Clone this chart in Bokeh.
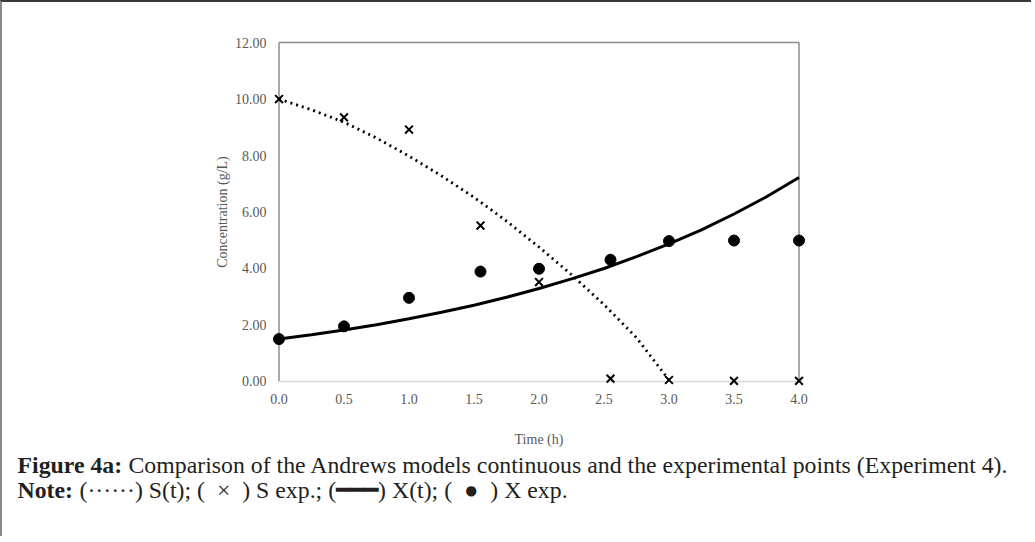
from bokeh.plotting import figure
from bokeh.layouts import column
from bokeh.models import Range1d, FixedTicker, NumeralTickFormatter, Label
from bokeh.embed import file_html
from bokeh.resources import INLINE

# ---------------- data ----------------
time_exp = [0.0, 0.5, 1.0, 1.55, 2.0, 2.55, 3.0, 3.5, 4.0]
s_exp = [10.0, 9.35, 8.92, 5.52, 3.52, 0.10, 0.05, 0.02, 0.02]
x_exp = [1.50, 1.95, 2.96, 3.89, 3.99, 4.31, 4.97, 4.99, 4.99]

time_s_model = [0.0, 0.25, 0.5, 0.75, 1.0, 1.25, 1.5, 1.75, 2.0, 2.25, 2.5, 2.75, 3.0]
s_model = [10.00, 9.62, 9.18, 8.62, 7.98, 7.28, 6.52, 5.68, 4.76, 3.78, 2.72, 1.55, 0.05]

time_x_model = [0.0, 0.25, 0.5, 0.75, 1.0, 1.25, 1.5, 1.75, 2.0, 2.25, 2.5, 2.75,
                3.0, 3.25, 3.5, 3.75, 4.0]
x_model = [1.50, 1.65, 1.82, 2.01, 2.22, 2.45, 2.70, 2.98, 3.29, 3.63, 4.00, 4.42,
           4.87, 5.37, 5.93, 6.54, 7.22]

x_ticks = [0.0, 0.5, 1.0, 1.5, 2.0, 2.5, 3.0, 3.5, 4.0]
y_ticks = [0, 2, 4, 6, 8, 10, 12]

x_label = "Time (h)"
y_label = "Concentration (g/L)"
caption_bold_1 = "Figure 4a:"
caption_text_1 = "Comparison of the Andrews models continuous and the experimental points (Experiment 4)."
caption_bold_2 = "Note:"
nb = "\u00a0"
caption_text_2 = ("(\u00b7\u00b7\u00b7\u00b7\u00b7\u00b7) S(t); (" + nb * 2 + "\u00d7" + nb * 2 +
                  ") S exp.; (\u2501\u2501\u2501) X(t); (" + nb * 2 + "\u25cf" + nb * 2 + ") X exp.")

# ---------------- chart ----------------
X0, X1 = x_ticks[0], x_ticks[-1]
Y0, Y1 = y_ticks[0], y_ticks[-1]
xpad, ypad = 0.05, 0.25
W = 1031
H = 448

p = figure(width=W, height=H, output_backend="svg", toolbar_location=None,
           x_range=Range1d(X0 - xpad, X1 + xpad), y_range=Range1d(Y0 - ypad, Y1 + ypad),
           min_border_left=270, min_border_right=W - 270 - 533, min_border_top=33,
           min_border_bottom=H - 33 - 353)
p.outline_line_color = None
p.grid.visible = False
p.background_fill_color = "white"
p.border_fill_color = "white"
p.styles = {"border-top": "2px solid #3a3a3a", "border-left": "2px solid #8a8a8a"}

serif = "Liberation Serif"
tick_col = "#595959"

for ax in (p.xaxis[0], p.yaxis[0]):
    ax.axis_line_color = None
    ax.major_tick_line_color = None
    ax.minor_tick_line_color = None
    ax.major_label_text_font = serif
    ax.major_label_text_font_size = "14px"
    ax.major_label_text_color = tick_col
    ax.axis_label_text_font = serif
    ax.axis_label_text_font_size = "14px"
    ax.axis_label_text_font_style = "normal"
    ax.axis_label_text_color = tick_col
    ax.major_tick_in = 0
    ax.major_tick_out = 0

p.xaxis.ticker = FixedTicker(ticks=x_ticks)
p.yaxis.ticker = FixedTicker(ticks=y_ticks)
p.xaxis.formatter = NumeralTickFormatter(format="0.0")
p.yaxis.formatter = NumeralTickFormatter(format="0.00")
p.xaxis.axis_label = x_label
p.yaxis.axis_label = y_label
p.xaxis.major_label_standoff = 5
p.yaxis.major_label_standoff = 6
p.xaxis.axis_label_standoff = 25
p.yaxis.axis_label_standoff = 2

# plot-area box (Excel style): grey left/top/right, light grey bottom
p.segment(x0=[X0, X0, X1], y0=[Y0, Y1, Y0], x1=[X0, X1, X1], y1=[Y1, Y1, Y1],
          line_color="#8c8c8c", line_width=1.5)
p.segment(x0=[X0], y0=[Y0], x1=[X1], y1=[Y0], line_color="#d9d9d9", line_width=1.5)

# model curves
p.line(time_s_model, s_model, line_color="black", line_width=2.8, line_dash="2 4")
p.line(time_x_model, x_model, line_color="black", line_width=3)

# experimental points
p.scatter(time_exp, s_exp, marker="x", size=11, line_width=2, line_color="black")
p.scatter(time_exp, x_exp, marker="circle", size=11, fill_color="black", line_color="black")

# ---------------- caption ----------------
CH = 88
c = figure(width=W, height=CH, output_backend="svg", toolbar_location=None,
           x_axis_type=None, y_axis_type=None, min_border=0,
           min_border_left=0, min_border_right=0, min_border_top=0, min_border_bottom=0,
           x_range=Range1d(0, W), y_range=Range1d(0, CH))
c.outline_line_color = None
c.grid.visible = False
c.styles = {"border-left": "2px solid #8a8a8a"}
for fig in (p, c):
    if "frame_align" in fig.properties():
        fig.frame_align = False

cap_col = "#231f20"
cap_size = "23.8px"
top_page = 2 + H  # page y of caption canvas top


def base(page_y):
    return CH - (page_y - top_page)


def cap(x, page_y, text, bold=False):
    c.add_layout(Label(x=x, y=base(page_y), x_units="screen", y_units="screen",
                       text=text, text_font=serif, text_font_size=cap_size,
                       text_font_style="bold" if bold else "normal",
                       text_baseline="alphabetic", text_color=cap_col))


cap(15, 466, caption_bold_1, bold=True)
cap(15 + 111, 466, caption_text_1)
cap(15, 491, caption_bold_2, bold=True)
cap(15 + 62, 491, caption_text_2)

layout = column(p, c, spacing=0)
open("out.html", "w").write(file_html(layout, INLINE))
